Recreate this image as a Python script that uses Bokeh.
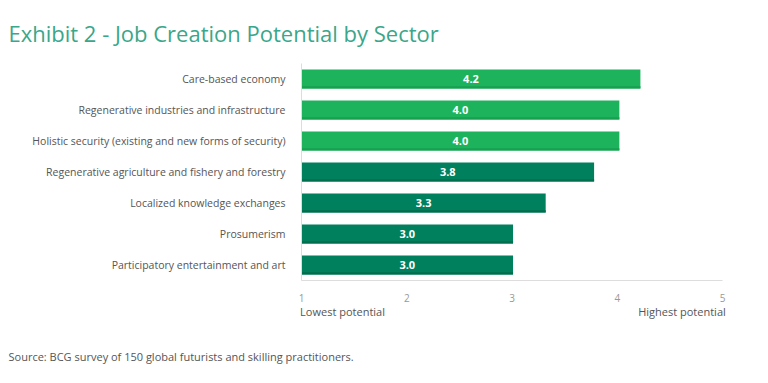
from bokeh.plotting import figure
from bokeh.models import FactorRange, FixedTicker, ColumnDataSource, LinearAxis, Title
from bokeh.transform import dodge
from bokeh.core.properties import value
from bokeh.embed import file_html
from bokeh.resources import INLINE

sectors = [
    "Care-based economy",
    "Regenerative industries and infrastructure",
    "Holistic security (existing and new forms of security)",
    "Regenerative agriculture and fishery and forestry",
    "Localized knowledge exchanges",
    "Prosumerism",
    "Participatory entertainment and art",
]
scores = [4.22, 4.02, 4.02, 3.78, 3.32, 3.01, 3.01]
score_labels = ["4.2", "4.0", "4.0", "3.8", "3.3", "3.0", "3.0"]
groups = ["light", "light", "light", "dark", "dark", "dark", "dark"]
scale_ticks = [1, 2, 3, 4, 5]
end_labels = ["Lowest potential", "Highest potential"]

fill_map = {"light": "#1cb35c", "dark": "#00805c"}
edge_map = {"light": "#16a050", "dark": "#006e4e"}
font = "Open Sans"

src = ColumnDataSource(dict(
    sector=sectors,
    score=scores,
    base=[1] * len(scores),
    mid=[(1 + s) / 2 for s in scores],
    lab=score_labels,
    fill=[fill_map[g] for g in groups],
    edge=[edge_map[g] for g in groups],
))

p = figure(
    width=760, height=375,
    y_range=FactorRange(*reversed(sectors), range_padding=0),
    x_range=(1, 5),
    output_backend="svg", toolbar_location=None,
    min_border_left=301, min_border_right=38,
    min_border_top=62, min_border_bottom=94,
    x_axis_location=None,
)
p.outline_line_color = None
p.xgrid.grid_line_color = None
p.ygrid.grid_line_color = None
p.background_fill_color = "white"
p.border_fill_color = "white"

p.hbar(y="sector", left="base", right="score", height=0.61, source=src,
       fill_color="fill", line_color=None)
p.hbar(y=dodge("sector", -0.27, range=p.y_range), left="base", right="score",
       height=0.07, source=src, fill_color="edge", line_color=None)

p.text(x="mid", y="sector", text="lab", source=src, text_color="white",
       text_font=value(font), text_font_size="11px",
       text_font_style="bold", text_align="center", text_baseline="middle")

ya = p.yaxis[0]
ya.axis_line_color = "#dddddd"
ya.major_tick_line_color = None
ya.minor_tick_line_color = None
ya.major_label_standoff = 10
ya.major_label_text_color = "#555555"
ya.major_label_text_font = font
ya.major_label_text_font_size = "10.5px"

# numeric scale axis
xa = LinearAxis(ticker=FixedTicker(ticks=scale_ticks))
xa.axis_line_color = "#dddddd"
xa.major_tick_line_color = None
xa.minor_tick_line_color = None
xa.major_label_standoff = 7
xa.major_label_text_color = "#999999"
xa.major_label_text_font = font
xa.major_label_text_font_size = "10px"
p.add_layout(xa, "below")

# end-of-scale captions (label centres placed so text starts at 1 / ends at 5)
cap_pos = [1.39, 4.615]
xa2 = LinearAxis(ticker=FixedTicker(ticks=cap_pos),
                 major_label_overrides={cap_pos[0]: end_labels[0], cap_pos[1]: end_labels[1]})
xa2.axis_line_color = None
xa2.major_tick_line_color = None
xa2.minor_tick_line_color = None
xa2.major_label_standoff = -7
xa2.major_label_text_color = "#555555"
xa2.major_label_text_font = font
xa2.major_label_text_font_size = "11px"
p.add_layout(xa2, "below")

p.title = Title(text="Exhibit 2 - Job Creation Potential by Sector", align="left",
                offset=-293, standoff=31, text_font=font, text_font_size="22px",
                text_font_style="normal", text_color="#3aa68a")

spacer = Title(text=" ", standoff=11, text_font_size="1px")
p.add_layout(spacer, "below")

src_title = Title(text="Source: BCG survey of 150 global futurists and skilling practitioners.",
                  align="left", offset=-293, standoff=23, text_font=font,
                  text_font_size="11px", text_font_style="normal", text_color="#555555")
p.add_layout(src_title, "below")

open("out.html", "w").write(file_html(p, INLINE))
